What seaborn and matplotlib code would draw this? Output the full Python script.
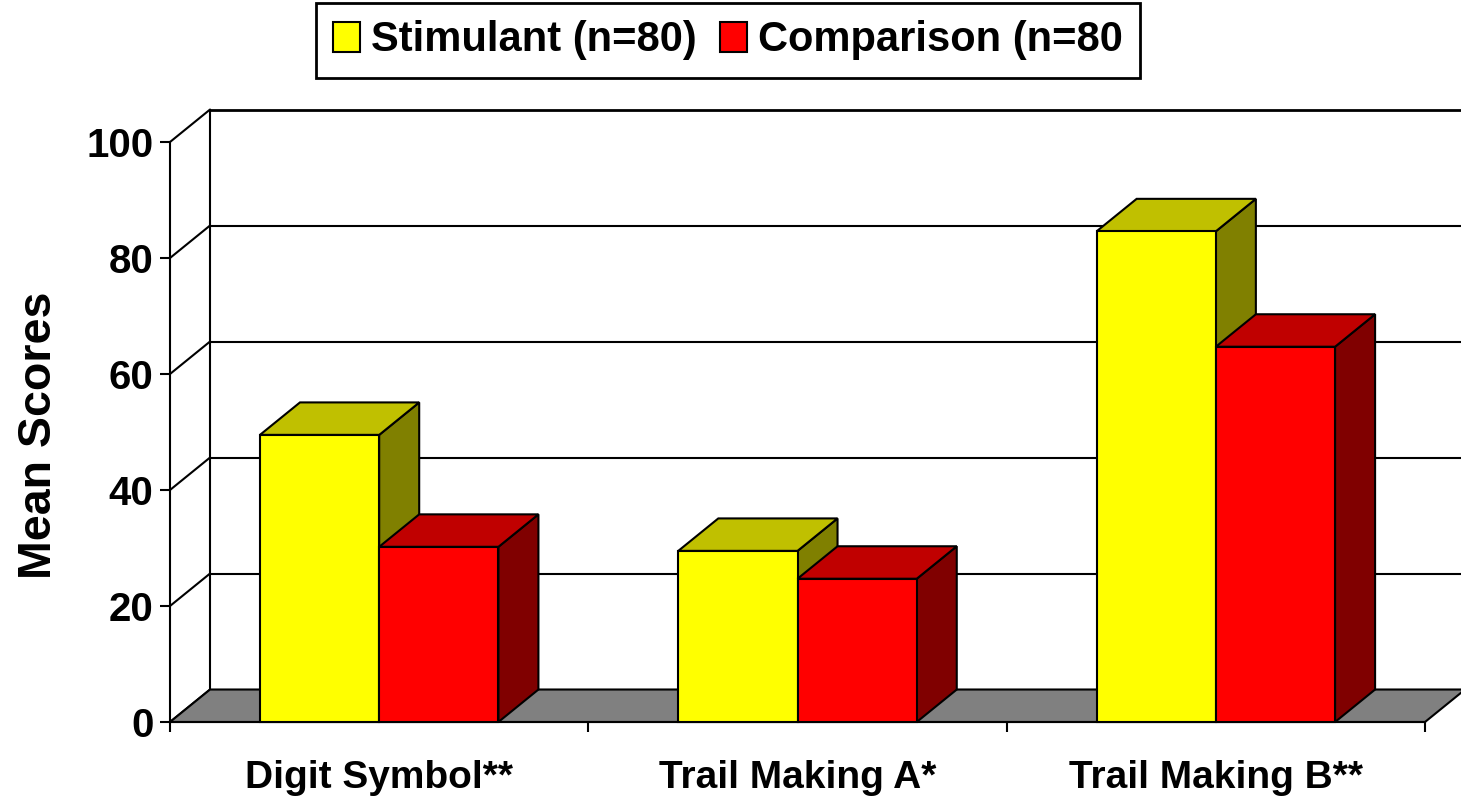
import matplotlib
matplotlib.use("Agg")
import matplotlib.pyplot as plt
import seaborn as sns
import pandas as pd
from matplotlib.patches import Polygon, Patch

# ---- data ----
categories = ["Digit Symbol**", "Trail Making A*", "Trail Making B**"]
series_names = ["Stimulant (n=80)", "Comparison (n=80"]
stimulant = [49.5, 29.5, 84.6]
comparison = [30.2, 24.7, 64.7]
yticks = [0, 20, 40, 60, 80, 100]

# ---- style ----
front_cols = ["#FFFF00", "#FF0000"]
top_cols = ["#C0C000", "#C00000"]
side_cols = ["#808000", "#800000"]
floor_col = "#808080"
DX = 0.0957   # depth offset in category units
DY = 5.6      # depth offset in value units

sns.set_style("white")
plt.rcParams["font.family"] = ["Liberation Sans", "DejaVu Sans"]
plt.rcParams["font.weight"] = "bold"
for k in ("text.color", "axes.labelcolor", "xtick.color", "ytick.color"):
    plt.rcParams[k] = "black"

fig = plt.figure(figsize=(14.61, 8.01), dpi=100)
ax = fig.add_axes([170 / 1461, 79 / 801, 1255 / 1461, 580 / 801])
ax.set_facecolor("none")

df = pd.DataFrame({
    "Test": categories * 2,
    "Group": [series_names[0]] * len(categories) + [series_names[1]] * len(categories),
    "Score": stimulant + comparison,
})
sns.barplot(data=df, x="Test", y="Score", hue="Group", palette=front_cols,
            width=0.57, saturation=1, edgecolor="black", linewidth=1.5,
            ax=ax, legend=False, errorbar=None)

xmin, xmax = -0.5, len(categories) - 0.5
ax.set_xlim(xmin, xmax)
ax.set_ylim(0, 100)

# 3D faces for every bar
for i, cont in enumerate(ax.containers):
    zb = 3 + 2 * i
    for bar in cont:
        x0 = bar.get_x(); w = bar.get_width(); h = bar.get_height()
        bar.set_zorder(zb + 1)
        side = Polygon([(x0 + w, 0), (x0 + w + DX, DY), (x0 + w + DX, h + DY), (x0 + w, h)],
                       closed=True, fc=side_cols[i], ec="black", lw=1.5, zorder=zb, clip_on=False)
        top = Polygon([(x0, h), (x0 + w, h), (x0 + w + DX, h + DY), (x0 + DX, h + DY)],
                      closed=True, fc=top_cols[i], ec="black", lw=1.5, zorder=zb, clip_on=False)
        ax.add_patch(side)
        ax.add_patch(top)
        bar.set_clip_on(False)

# back wall gridlines, side wall diagonals
for v in yticks:
    ax.plot([xmin + DX, xmax + DX + 0.3], [v + DY, v + DY], color="black",
            lw=2 if v == yticks[-1] else 1.5, zorder=1, clip_on=False)
    ax.plot([xmin, xmin + DX], [v, v + DY], color="black", lw=1.5, zorder=1, clip_on=False)
ax.plot([xmin + DX, xmin + DX], [DY, yticks[-1] + DY], color="black", lw=1.5, zorder=1, clip_on=False)

# floor
floor = Polygon([(xmin, 0), (xmax, 0), (xmax + DX, DY), (xmin + DX, DY)], closed=True,
                fc=floor_col, ec="black", lw=1.5, zorder=2, clip_on=False)
ax.add_patch(floor)

# spines / ticks
ax.spines["top"].set_visible(False)
ax.spines["right"].set_visible(False)
for s in ("left", "bottom"):
    ax.spines[s].set_color("black")
    ax.spines[s].set_linewidth(1.5)
    ax.spines[s].set_zorder(2.5)

ax.set_yticks(yticks)
ax.tick_params(axis="y", left=True, direction="out", length=7, width=1.5,
               labelsize=29, pad=5, colors="black")
ax.set_xticks(range(len(categories)), categories)
ax.set_xticks([xmin + k for k in range(len(categories) + 1)], minor=True)
ax.tick_params(axis="x", which="major", length=0, pad=27, labelsize=28, colors="black")
ax.tick_params(axis="x", which="minor", bottom=True, direction="out", length=7, width=1.5, color="black")
for lab in ax.get_xticklabels() + ax.get_yticklabels():
    lab.set_fontweight("bold")

ax.set_xlabel("")
ax.set_ylabel("Mean Scores", fontsize=33.5, fontweight="bold", va="center", color="black")
ax.yaxis.set_label_coords(-0.104, 0.495)

handles = [Patch(fc=front_cols[k], ec="black", lw=1.5) for k in range(2)]
leg = fig.legend(handles, series_names, loc="center",
                 bbox_to_anchor=(728 / 1461, 1 - 40.5 / 801), ncol=2, frameon=True,
                 fancybox=False, edgecolor="black", framealpha=1,
                 prop={"size": 30, "weight": "bold"}, handlelength=0.65, handleheight=0.72,
                 handletextpad=0.26, columnspacing=0.55, borderpad=0.42)
leg.get_frame().set_linewidth(2)
for t in leg.get_texts():
    t.set_color("black")

fig.savefig("out.png", dpi=100)
